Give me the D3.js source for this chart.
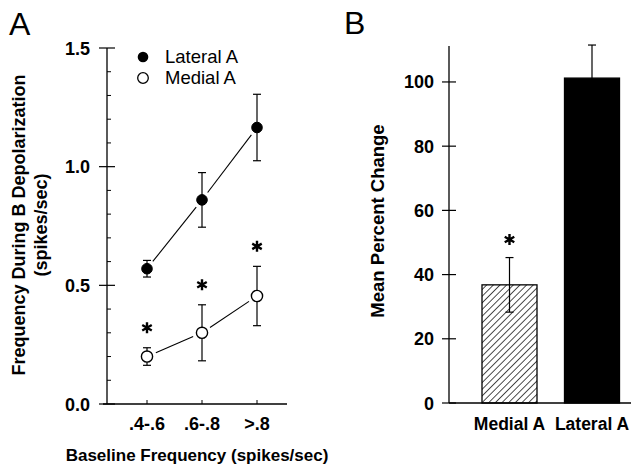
<!DOCTYPE html>
<html>
<head>
    <title>Frequency During B Depolarization</title>
    <script src="https://d3js.org/d3.v7.min.js"></script>
    <style>
        body, html {
            margin: 0;
            padding: 0;
            background: white;
            overflow: hidden;
        }
        svg {
            display: block;
            font-family: "Liberation Sans", Arial, sans-serif;
        }
        .tick-label {
            font-weight: bold;
            font-size: 18px;
        }
        .axis-title {
            font-weight: bold;
            font-size: 17px;
        }
    </style>
</head>
<body>
    <svg id="chart" width="631" height="465"></svg>

    <script>
        // ---- data ----
        const freqCategories = [".4-.6", ".6-.8", ">.8"];
        const lateralMean = [0.57, 0.86, 1.165];
        const lateralErr = [0.035, 0.115, 0.14];
        const medialMean = [0.20, 0.30, 0.455];
        const medialErr = [0.037, 0.118, 0.125];
        const medialSignif = [true, true, true];
        const yTicksA = [0, 0.5, 1.0, 1.5];

        const barCategories = ["Medial A", "Lateral A"];
        const barMeans = [36.8, 101.2];
        const barErrs = [8.5, 10.3];
        const barSignif = [true, false];
        const yTicksB = [0, 20, 40, 60, 80, 100];

        const svg = d3.select("#chart");

        // hatch pattern for the medial bar
        const defs = svg.append("defs");
        defs.append("pattern")
            .attr("id", "hatch")
            .attr("patternUnits", "userSpaceOnUse")
            .attr("width", 4.7)
            .attr("height", 4.7)
            .attr("patternTransform", "rotate(45)")
            .append("line")
            .attr("x1", 0).attr("y1", 0)
            .attr("x2", 0).attr("y2", 4.7)
            .attr("stroke", "#111")
            .attr("stroke-width", 1.5);

        const asterisk = d3.symbol().type(d3.symbolAsterisk).size(85);

        // ================= Panel A =================
        const xA = d3.scalePoint().domain(freqCategories).range([147, 257]);
        const yA = d3.scaleLinear().domain([0, 1.5]).range([404, 48]);
        const axisLeftA = 107, axisRightA = 287;

        const gA = svg.append("g");

        gA.append("text")
            .attr("x", 9).attr("y", 35)
            .attr("font-size", 32)
            .text("A");

        // y axis line
        gA.append("line")
            .attr("x1", axisLeftA).attr("x2", axisLeftA)
            .attr("y1", yA(1.5)).attr("y2", yA(0))
            .attr("stroke", "black").attr("stroke-width", 1.3);
        // minor ticks (inward)
        gA.selectAll(".minor")
            .data(d3.range(1, 15).filter(i => i % 5 !== 0).map(i => i / 10))
            .enter().append("line")
            .attr("x1", axisLeftA).attr("x2", axisLeftA + 4)
            .attr("y1", d => yA(d)).attr("y2", d => yA(d))
            .attr("stroke", "black").attr("stroke-width", 1);
        // major ticks (crossing)
        gA.selectAll(".major")
            .data(yTicksA)
            .enter().append("line")
            .attr("x1", axisLeftA - 8).attr("x2", axisLeftA + 8)
            .attr("y1", d => yA(d)).attr("y2", d => yA(d))
            .attr("stroke", "black").attr("stroke-width", 1.2);
        gA.selectAll(".ylab")
            .data(yTicksA)
            .enter().append("text")
            .attr("class", "tick-label")
            .attr("x", 90)
            .attr("y", d => yA(d) + 6.5)
            .attr("text-anchor", "end")
            .text(d => d.toFixed(1));

        // x axis
        gA.append("line")
            .attr("x1", axisLeftA - 4).attr("x2", axisRightA)
            .attr("y1", yA(0)).attr("y2", yA(0))
            .attr("stroke", "black").attr("stroke-width", 1.3);
        gA.selectAll(".xtick")
            .data(freqCategories)
            .enter().append("line")
            .attr("x1", d => xA(d)).attr("x2", d => xA(d))
            .attr("y1", yA(0)).attr("y2", yA(0) - 4)
            .attr("stroke", "black").attr("stroke-width", 1);
        gA.selectAll(".xlab")
            .data(freqCategories)
            .enter().append("text")
            .attr("class", "tick-label")
            .attr("x", d => xA(d))
            .attr("y", 430)
            .attr("text-anchor", "middle")
            .text(d => d);

        gA.append("text")
            .attr("class", "axis-title")
            .attr("x", 197).attr("y", 461)
            .attr("text-anchor", "middle")
            .text("Baseline Frequency (spikes/sec)");

        const titleA = gA.append("text")
            .attr("class", "axis-title")
            .style("font-size", "18px")
            .attr("transform", "translate(25,225) rotate(-90)")
            .attr("text-anchor", "middle");
        titleA.append("tspan").attr("x", 0).attr("dy", 0).text("Frequency During B Depolarization");
        titleA.append("tspan").attr("x", 0).attr("dy", 22).text("(spikes/sec)");

        // series
        function drawSeries(means, errs, filled, r) {
            const pts = means.map((m, i) => ({ x: xA(freqCategories[i]), y: yA(m), m: m, e: errs[i] }));
            // connecting segments with gaps at markers
            for (let i = 0; i < pts.length - 1; i++) {
                const a = pts[i], b = pts[i + 1];
                const dx = b.x - a.x, dy = b.y - a.y;
                const len = Math.sqrt(dx * dx + dy * dy);
                const gap = r + 4;
                gA.append("line")
                    .attr("x1", a.x + dx / len * gap).attr("y1", a.y + dy / len * gap)
                    .attr("x2", b.x - dx / len * gap).attr("y2", b.y - dy / len * gap)
                    .attr("stroke", "black").attr("stroke-width", 1.1);
            }
            const g = gA.selectAll(null).data(pts).enter().append("g");
            g.append("line")
                .attr("x1", d => d.x).attr("x2", d => d.x)
                .attr("y1", d => yA(d.m + d.e)).attr("y2", d => yA(d.m - d.e))
                .attr("stroke", "black").attr("stroke-width", 1.2);
            [1, -1].forEach(s => {
                g.append("line")
                    .attr("x1", d => d.x - 4).attr("x2", d => d.x + 4)
                    .attr("y1", d => yA(d.m + s * d.e)).attr("y2", d => yA(d.m + s * d.e))
                    .attr("stroke", "black").attr("stroke-width", 1.2);
            });
            g.append("circle")
                .attr("cx", d => d.x).attr("cy", d => d.y)
                .attr("r", r)
                .attr("fill", filled ? "black" : "white")
                .attr("stroke", "black")
                .attr("stroke-width", filled ? 1 : 1.4);
        }
        drawSeries(lateralMean, lateralErr, true, 5.3);
        drawSeries(medialMean, medialErr, false, 5.6);

        // significance asterisks above medial error bars
        gA.selectAll(".astA")
            .data(medialMean.map((m, i) => ({ m: m, e: medialErr[i], c: freqCategories[i], s: medialSignif[i] })).filter(d => d.s))
            .enter().append("path")
            .attr("d", asterisk)
            .attr("transform", d => `translate(${xA(d.c)},${yA(d.m + d.e) - 20})`)
            .attr("stroke", "black").attr("stroke-width", 2.4)
            .attr("fill", "none");

        // legend
        const legend = gA.append("g");
        legend.append("circle").attr("cx", 143).attr("cy", 57).attr("r", 5.3).attr("fill", "black");
        legend.append("circle").attr("cx", 143).attr("cy", 78).attr("r", 5.3)
            .attr("fill", "white").attr("stroke", "black").attr("stroke-width", 1.3);
        legend.append("text").attr("x", 165).attr("y", 63).attr("font-size", 18.5).text("Lateral A");
        legend.append("text").attr("x", 165).attr("y", 84).attr("font-size", 18.5).text("Medial A");

        // ================= Panel B =================
        const xB = d3.scaleBand().domain(barCategories).range([454.5, 647])
            .paddingInner(1 / 3).paddingOuter(1 / 3);
        const yB = d3.scaleLinear().domain([0, 111.2]).range([403, 46]);
        const axisLeftB = 449;

        const gB = svg.append("g");

        gB.append("text")
            .attr("x", 344).attr("y", 34)
            .attr("font-size", 32)
            .text("B");

        gB.append("line")
            .attr("x1", axisLeftB).attr("x2", axisLeftB)
            .attr("y1", yB(111.2)).attr("y2", yB(0))
            .attr("stroke", "black").attr("stroke-width", 1.3);
        gB.append("line")
            .attr("x1", axisLeftB).attr("x2", 631)
            .attr("y1", yB(0)).attr("y2", yB(0))
            .attr("stroke", "black").attr("stroke-width", 1.3);
        gB.selectAll(".majorB")
            .data(yTicksB)
            .enter().append("line")
            .attr("x1", axisLeftB - 7).attr("x2", axisLeftB + 7)
            .attr("y1", d => yB(d)).attr("y2", d => yB(d))
            .attr("stroke", "black").attr("stroke-width", 1.2);
        gB.selectAll(".ylabB")
            .data(yTicksB)
            .enter().append("text")
            .attr("class", "tick-label")
            .attr("x", 434)
            .attr("y", d => yB(d) + 6.5)
            .attr("text-anchor", "end")
            .text(d => d);

        gB.append("text")
            .attr("class", "axis-title")
            .style("font-size", "18.5px")
            .attr("transform", "translate(384,221) rotate(-90)")
            .attr("text-anchor", "middle")
            .text("Mean Percent Change");

        // error bars (drawn first so the solid bar covers the lower half)
        const bars = barCategories.map((c, i) => ({ c: c, m: barMeans[i], e: barErrs[i], s: barSignif[i] }));
        const eb = gB.selectAll(".eb").data(bars).enter().append("g");
        eb.append("line")
            .attr("x1", d => xB(d.c) + xB.bandwidth() / 2).attr("x2", d => xB(d.c) + xB.bandwidth() / 2)
            .attr("y1", d => yB(d.m + d.e)).attr("y2", d => yB(d.m - d.e))
            .attr("stroke", "black").attr("stroke-width", 1.2);
        [1, -1].forEach(s => {
            eb.append("line")
                .attr("x1", d => xB(d.c) + xB.bandwidth() / 2 - 4)
                .attr("x2", d => xB(d.c) + xB.bandwidth() / 2 + 4)
                .attr("y1", d => yB(d.m + s * d.e)).attr("y2", d => yB(d.m + s * d.e))
                .attr("stroke", "black").attr("stroke-width", 1.2);
        });

        gB.selectAll(".bar")
            .data(bars)
            .enter().append("rect")
            .attr("x", d => xB(d.c))
            .attr("y", d => yB(d.m))
            .attr("width", xB.bandwidth())
            .attr("height", d => yB(0) - yB(d.m))
            .attr("fill", (d, i) => i === 0 ? "url(#hatch)" : "black")
            .attr("stroke", "black")
            .attr("stroke-width", 1.3);

        // medial bar: error bar visible on top of the hatch
        eb.filter((d, i) => i === 0).raise();

        gB.selectAll(".astB")
            .data(bars.filter(d => d.s))
            .enter().append("path")
            .attr("d", asterisk)
            .attr("transform", d => `translate(${xB(d.c) + xB.bandwidth() / 2},${yB(d.m + d.e) - 18})`)
            .attr("stroke", "black").attr("stroke-width", 2.4)
            .attr("fill", "none");

        gB.selectAll(".xlabB")
            .data(barCategories)
            .enter().append("text")
            .attr("class", "tick-label")
            .style("font-size", "17.5px")
            .attr("x", d => xB(d) + xB.bandwidth() / 2)
            .attr("y", 430)
            .attr("text-anchor", "middle")
            .text(d => d);
    </script>
</body>
</html>
